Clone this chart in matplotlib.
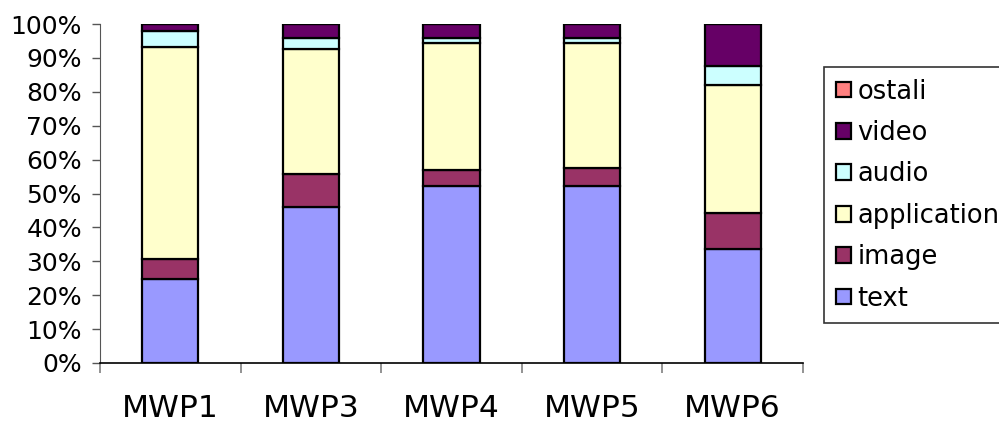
import numpy as np
import matplotlib
matplotlib.use("Agg")
import matplotlib.pyplot as plt
from matplotlib.ticker import PercentFormatter


# Data (share of traffic per content type, %)

servers = ["MWP1", "MWP3", "MWP4", "MWP5", "MWP6"]

text = [24.7, 45.9, 52.3, 52.3, 33.6]
image = [5.9, 10.0, 4.7, 5.2, 10.6]
application = [62.5, 36.6, 37.3, 36.8, 37.8]
audio = [4.7, 3.5, 1.6, 1.6, 5.7]
video = [2.2, 4.0, 4.1, 4.1, 12.3]
ostali = [0.0, 0.0, 0.0, 0.0, 0.0]

series = [
    ("text", text, "#9999FF"),
    ("image", image, "#993366"),
    ("application", application, "#FFFFCC"),
    ("audio", audio, "#CCFFFF"),
    ("video", video, "#660066"),
    ("ostali", ostali, "#FF8080"),
]


# Figure

plt.rcParams.update({
    "font.family": "DejaVu Sans",
    "font.size": 18,
})

fig = plt.figure(figsize=(9.99, 4.25), dpi=100)
ax = fig.add_axes([0.1001, 0.1459, 0.7037, 0.7976])

x = np.arange(len(servers))
totals = np.sum([s[1] for s in series], axis=0)
bottom = np.zeros(len(servers))

handles = []
for name, values, color in series:
    pct = np.array(values) / totals * 100
    bars = ax.bar(
        x, pct, width=0.4, bottom=bottom,
        color=color, edgecolor="black", linewidth=1.6,
        label=name, zorder=2
    )
    handles.append(bars)
    bottom += pct

ax.set_xlim(-0.5, len(servers) - 0.5)
ax.set_ylim(0, 100)

ax.yaxis.set_major_formatter(PercentFormatter(decimals=0))
ax.set_yticks(np.arange(0, 101, 10))
ax.tick_params(axis="y", direction="out", length=6, width=1,
               color="#555555", pad=7, labelsize=18)

ax.set_xticks(x)
ax.set_xticklabels(servers)
ax.tick_params(axis="x", which="major", length=0, pad=22, labelsize=22.5)
ax.set_xticks(np.arange(-0.5, len(servers)), minor=True)
ax.tick_params(axis="x", which="minor", direction="out", length=7,
               width=1.2, color="#808080")

for side in ["top", "right"]:
    ax.spines[side].set_visible(False)
ax.spines["left"].set_color("#555555")
ax.spines["bottom"].set_color("black")
ax.spines["bottom"].set_linewidth(1.2)

# legend box runs off the right edge of the canvas
leg = fig.legend(
    handles[::-1], [s[0] for s in series][::-1],
    loc="upper left",
    bbox_to_anchor=(824 / 999, 1 - 67 / 425, 220 / 999, 0.0),
    mode="expand",
    bbox_transform=fig.transFigure, borderaxespad=0,
    fontsize=18.5, frameon=True, fancybox=False,
    handlelength=0.6, handleheight=0.56, handletextpad=0.25,
    labelspacing=0.6, borderpad=0.45
)
leg.get_frame().set_edgecolor("black")
leg.get_frame().set_linewidth(1.2)
for h in leg.legend_handles:
    h.set_linewidth(1.6)

fig.savefig("out.png", dpi=100, facecolor="white")
